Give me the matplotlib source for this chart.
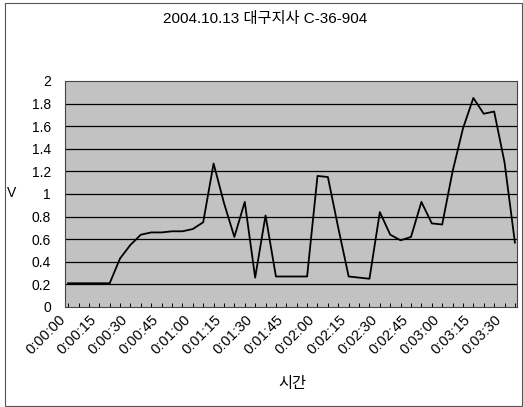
import matplotlib
matplotlib.use("Agg")
import matplotlib.pyplot as plt
from matplotlib.patches import Rectangle

plt.rcParams['font.family'] = ['Liberation Sans', 'Noto Sans CJK KR', 'DejaVu Sans']

title = "2004.10.13 대구지사 C-36-904"
x_label = "시간"
y_label = "V"

# time stamps every 5 s, from 0:00:00 to 0:03:35
times = [f"0:{(s // 60):02d}:{(s % 60):02d}" for s in range(0, 216, 5)]
values = [0.21, 0.21, 0.21, 0.21, 0.21, 0.43, 0.55, 0.64, 0.66, 0.66,
          0.67, 0.67, 0.69, 0.75, 1.27, 0.92, 0.62, 0.93, 0.26, 0.81,
          0.27, 0.27, 0.27, 0.27, 1.16, 1.15, 0.70, 0.27, 0.26, 0.25,
          0.84, 0.64, 0.59, 0.62, 0.93, 0.74, 0.73, 1.20, 1.58, 1.85,
          1.71, 1.73, 1.28, 0.57]
y_ticks = [0, 0.2, 0.4, 0.6, 0.8, 1, 1.2, 1.4, 1.6, 1.8, 2]
y_tick_labels = ["0", "0.2", "0.4", "0.6", "0.8", "1", "1.2", "1.4", "1.6", "1.8", "2"]

W, H = 523, 407
fig = plt.figure(figsize=(W / 100, H / 100), dpi=100)
fig.patch.set_facecolor('white')

# outer chart border
fig.add_artist(Rectangle((5 / W, 1 / H), (W - 6) / W, (H - 4) / H,
                         transform=fig.transFigure, fill=False,
                         edgecolor='#555555', linewidth=0.8))

ax = fig.add_axes([65 / W, 1 - 307 / H, (517 - 65) / W, (307 - 81) / H])
ax.set_facecolor('#c2c2c2')

xs = list(range(len(times)))
ax.plot(xs, values, color='black', linewidth=1.3, zorder=3)

ax.set_xlim(-0.3, len(times) - 1 + 0.2)
ax.set_ylim(0, 2)
ax.set_yticks(y_ticks)
ax.set_yticklabels(y_tick_labels, fontsize=10)
for y in y_ticks[1:-1]:
    ax.axhline(y, color='black', linewidth=0.9, zorder=2)

label_idx = xs[::3]
ax.set_xticks(xs, minor=True)
ax.set_xticks(label_idx)
ax.set_xticklabels([times[i] for i in label_idx], rotation=45,
                   ha='right', va='top', fontsize=10.5)
ax.tick_params(axis='x', which='both', direction='in', length=3, width=0.7, pad=4)
ax.tick_params(axis='y', length=0, pad=10)

for s in ax.spines.values():
    s.set_color('#444444')
    s.set_linewidth(0.8)

fig.text(265 / W, 1 - 19 / H, title, ha='center', va='center', fontsize=11)
fig.text(12 / W, 1 - 193 / H, y_label, ha='center', va='center', fontsize=10)
fig.text(292 / W, 1 - 384 / H, x_label, ha='center', va='center', fontsize=11)

fig.savefig("out.png", dpi=100)
